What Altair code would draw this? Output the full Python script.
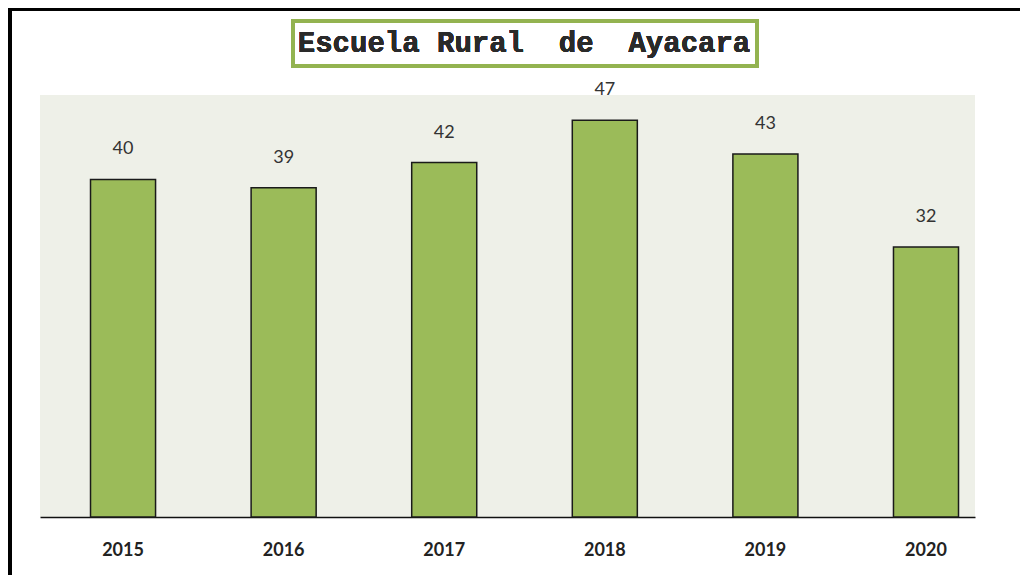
import altair as alt
import pandas as pd

years = ["2015", "2016", "2017", "2018", "2019", "2020"]
values = [40, 39, 42, 47, 43, 32]
title_text = "Escuela Rural\u00a0\u00a0de\u00a0\u00a0Ayacara"

df = pd.DataFrame({"year": years, "value": values})

GREEN = "#9BBB59"
FONT = "Lato"

x_enc = alt.X(
    "year:N",
    sort=years,
    scale=alt.Scale(paddingInner=0.595, paddingOuter=0.2086, align=0.754),
    axis=alt.Axis(
        title=None, labelAngle=0, ticks=False, domain=True,
        domainColor="#111111", domainWidth=1.5,
        labelFont=FONT, labelFontSize=18, labelFontWeight="bold",
        labelColor="#222222", labelPadding=24,
    ),
)
y_enc = alt.Y("value:Q", scale=alt.Scale(domain=[0, 50], nice=False), axis=None)

base = alt.Chart(df)

bars = base.mark_bar(color=GREEN, stroke="#1a1a1a", strokeWidth=1.5).encode(x=x_enc, y=y_enc)

labels = base.mark_text(
    dy=-30, baseline="middle", align="center",
    font=FONT, fontSize=18, color="#333333",
).encode(x=x_enc, y=y_enc, text="value:Q")

title_box = alt.Chart(df).mark_rect(
    fill="white", stroke="#93B350", strokeWidth=4
).encode(
    x=alt.value(253), x2=alt.value(717), y=alt.value(-74), y2=alt.value(-29)
)

title_txt = alt.Chart(df).mark_text(
    text=title_text, font="Liberation Mono", fontSize=29, fontWeight="bold",
    color="#2a2a2a", align="center", baseline="middle",
).encode(x=alt.value(484), y=alt.value(-52))

top_line = alt.Chart(df).mark_rule(color="black", strokeWidth=3).encode(
    x=alt.value(-32), x2=alt.value(980), y=alt.value(-86)
)
left_line = alt.Chart(df).mark_rule(color="black", strokeWidth=4).encode(
    x=alt.value(-30), y=alt.value(-87), y2=alt.value(490)
)

chart = alt.layer(
    bars, labels, title_box, title_txt, top_line, left_line
).properties(
    width=935, height=422,
    autosize=alt.AutoSizeParams(type="none"),
    padding={"left": 32, "top": 87, "right": 45, "bottom": 58},
).configure_view(
    fill="#EEF0E8", strokeWidth=0
)

chart.save("out.html", embed_options={"renderer": "svg", "actions": False})
